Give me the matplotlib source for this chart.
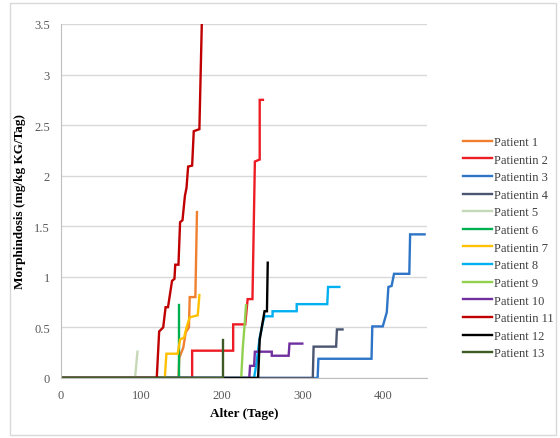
import matplotlib
matplotlib.use("Agg")
import matplotlib.pyplot as plt
from matplotlib.patches import Rectangle

# ---- data (age in days, morphine dose mg/kg KG/Tag) ----
labels = ["Patient 1", "Patientin 2", "Patientin 3", "Patientin 4", "Patient 5",
          "Patient 6", "Patientin 7", "Patient 8", "Patient 9", "Patient 10",
          "Patientin 11", "Patient 12", "Patient 13"]

p1_x = [0, 146, 147, 152, 155, 159, 160, 167, 169]
p1_y = [0, 0, 0.2, 0.3, 0.45, 0.5, 0.8, 0.8, 1.64]

p2_x = [0, 163, 163, 214, 214, 229, 232, 238, 241, 247, 247, 251]
p2_y = [0, 0, 0.27, 0.27, 0.53, 0.53, 0.78, 0.78, 2.14, 2.16, 2.75, 2.75]

p3_x = [0, 319, 320, 386, 387, 400, 405, 407, 411, 414, 433, 434, 452]
p3_y = [0, 0, 0.19, 0.19, 0.51, 0.51, 0.65, 0.9, 0.91, 1.03, 1.03, 1.42, 1.42]

p4_x = [0, 313, 314, 342, 343, 350]
p4_y = [0, 0, 0.31, 0.31, 0.48, 0.48]

p5_x = [0, 92, 95]
p5_y = [0, 0, 0.26]

p6_x = [0, 147, 147]
p6_y = [0, 0, 0.72]

p7_x = [0, 129, 131, 145, 148, 153, 156, 158, 160, 170, 172]
p7_y = [0, 0, 0.24, 0.24, 0.38, 0.4, 0.5, 0.55, 0.6, 0.62, 0.82]

p8_x = [0, 240, 243, 247, 251, 253, 263, 263, 293, 293, 331, 332, 346]
p8_y = [0, 0, 0.15, 0.4, 0.55, 0.61, 0.61, 0.66, 0.66, 0.73, 0.73, 0.9, 0.9]

p9_x = [0, 224, 226, 228, 230]
p9_y = [0, 0, 0.3, 0.5, 0.72]

p10_x = [0, 234, 235, 240, 241, 262, 262, 283, 284, 300]
p10_y = [0, 0, 0.12, 0.12, 0.26, 0.26, 0.22, 0.22, 0.34, 0.34]

p11_x = [0, 119, 122, 127, 130, 133, 138, 141, 142, 146, 148, 151, 154, 156, 158, 163, 165, 172, 175]
p11_y = [0, 0, 0.46, 0.5, 0.70, 0.70, 0.96, 0.98, 1.12, 1.12, 1.54, 1.56, 1.80, 1.88, 2.09, 2.10, 2.44, 2.46, 3.5]

p12_x = [0, 245, 247, 250, 253, 256, 257]
p12_y = [0, 0, 0.38, 0.52, 0.66, 0.66, 1.14]

p13_x = [0, 201, 201]
p13_y = [0, 0, 0.38]

xs = [p1_x, p2_x, p3_x, p4_x, p5_x, p6_x, p7_x, p8_x, p9_x, p10_x, p11_x, p12_x, p13_x]
ys = [p1_y, p2_y, p3_y, p4_y, p5_y, p6_y, p7_y, p8_y, p9_y, p10_y, p11_y, p12_y, p13_y]

colors = ["#F08030", "#EE1C25", "#2E75C8", "#4A5570", "#C5D9B8", "#00B050",
          "#FFC000", "#00B0F0", "#92D050", "#7030A0", "#C00000", "#000000", "#3E5A25"]

x_ticks = [0, 100, 200, 300, 400]
y_ticks = [0, 0.5, 1, 1.5, 2, 2.5, 3, 3.5]

serif = ["Liberation Serif", "DejaVu Serif"]

fig = plt.figure(figsize=(5.6, 4.39), dpi=100)
ax = fig.add_axes([0.109, 0.1367, 0.6535, 0.8064])

for x, y, c, lab in zip(xs, ys, colors, labels):
    ax.plot(x, y, color=c, lw=1.7, label=lab, solid_joinstyle="miter")

ax.set_xlim(0, 455)
ax.set_ylim(0, 3.5)
ax.set_xticks(x_ticks)
ax.set_yticks(y_ticks)
ax.set_yticklabels(["%g" % v for v in y_ticks])
ax.yaxis.grid(True, color="#D9D9D9", lw=1)
ax.set_axisbelow(True)
for s in ["top", "right"]:
    ax.spines[s].set_visible(False)
ax.spines["left"].set_color("#BFBFBF")
ax.spines["bottom"].set_color("#BFBFBF")
ax.tick_params(length=0, pad=8, labelsize=9, labelcolor="#595959")
for t in ax.get_xticklabels() + ax.get_yticklabels():
    t.set_family(serif)

ax.set_xlabel("Alter (Tage)", family=serif, fontsize=9.5, fontweight="bold", labelpad=4)
ax.set_ylabel("Morphindosis (mg/kg KG/Tag)", family=serif, fontsize=9.5, fontweight="bold", labelpad=6)

leg = ax.legend(loc="upper left", bbox_to_anchor=(458 / 560, 1 - 132 / 439),
                bbox_transform=fig.transFigure, frameon=False,
                prop={"family": serif, "size": 9}, handlelength=2.3,
                handletextpad=0.15, labelspacing=0.45, borderaxespad=0)
for t in leg.get_texts():
    t.set_color("#404040")

fig.patches.append(Rectangle((10 / 560, 3 / 439), 546 / 560, 432 / 439,
                             transform=fig.transFigure, fill=False,
                             edgecolor="#D9D9D9", lw=1))

fig.savefig("out.png", dpi=100)
